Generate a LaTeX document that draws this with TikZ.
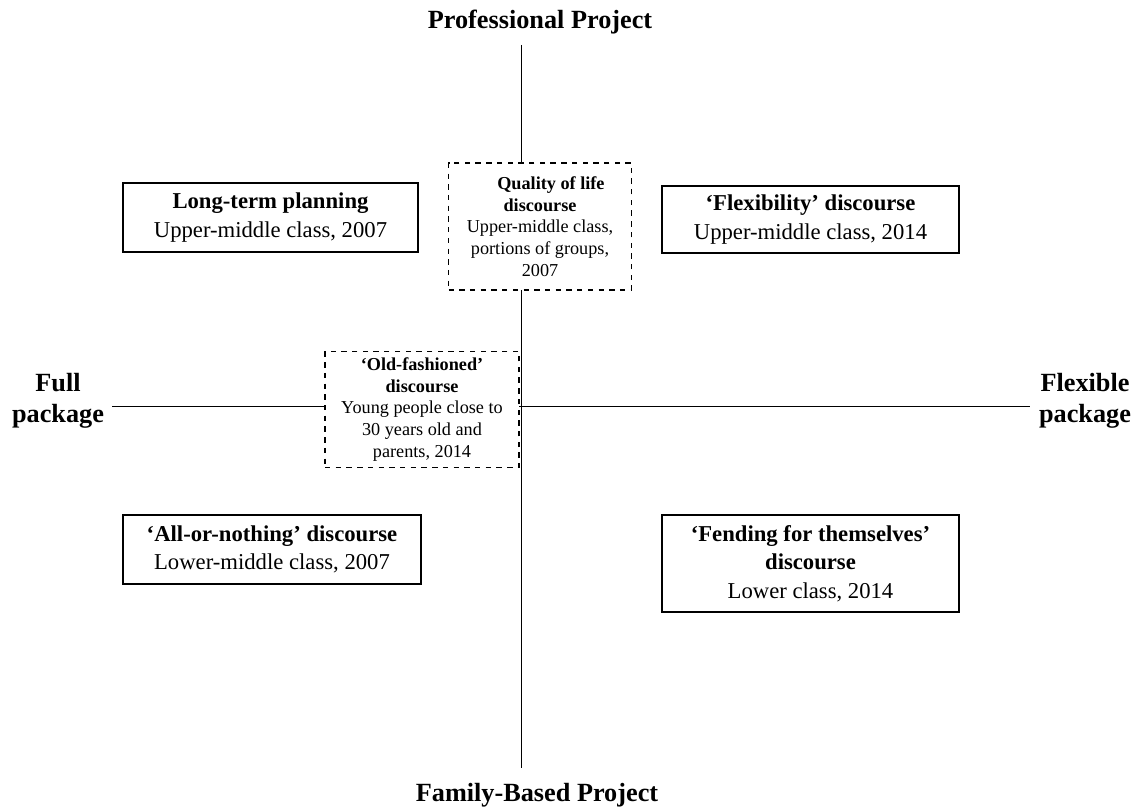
\documentclass[tikz,border=0pt]{standalone}
\usepackage{fontspec}
\setmainfont{Liberation Serif}
\usetikzlibrary{positioning}

\begin{document}
\begin{tikzpicture}[x=0.56pt,y=-0.56pt,
    every node/.style={align=center},
    axislabel/.style={font=\bfseries\fontsize{14.7}{17.2}\selectfont},
    quadbox/.style={draw,fill=white,line width=0.6pt,
        font=\fontsize{12.7}{16}\selectfont},
    middlebox/.style={draw,fill=white,dashed,line width=0.6pt,
        font=\fontsize{10.2}{12.2}\selectfont}]
    \useasboundingbox (0,0) rectangle (1133,810);

    % axes
    \coordinate (vtop) at (521,45);
    \coordinate (vbot) at (521,768);
    \coordinate (hleft) at (112,406);
    \coordinate (hright) at (1030,406);
    \draw[line width=0.5pt] (vtop) -- (vbot);
    \draw[line width=0.5pt] (hleft) -- (hright);

    \node[axislabel] (prof) at (540,22) {Professional Project};
    \node[axislabel] (family) at (537,795) {Family-Based Project};
    \node[axislabel] (full) at (58,401) {Full\\package};
    \node[axislabel] (flexible) at (1085,401) {Flexible\\package};

    % quadrants
    \node[quadbox,minimum width=295*0.56pt,minimum height=69*0.56pt]
        (longterm) at (270.5,217.5)
        {\textbf{Long-term planning}\\Upper-middle class, 2007};
    \node[quadbox,minimum width=297*0.56pt,minimum height=67*0.56pt]
        (flexibility) at (810.5,219.5)
        {\textbf{`Flexibility' discourse}\\Upper-middle class, 2014};
    \node[quadbox,minimum width=298*0.56pt,minimum height=69*0.56pt]
        (allornothing) at (272,549.5)
        {\textbf{`All-or-nothing' discourse}\\Lower-middle class, 2007};
    \node[quadbox,minimum width=297*0.56pt,minimum height=97*0.56pt]
        (fending) at (810.5,563.5)
        {\textbf{`Fending for themselves'}\\\textbf{discourse}\\Lower class, 2014};

    % in-between discourses
    \node[middlebox,minimum width=183*0.56pt,minimum height=127*0.56pt]
        (quality) at (540,226.5)
        {\hspace*{1.2em}\textbf{Quality of life}\\\textbf{discourse}\\Upper-middle class,\\portions of groups,\\2007};
    \node[middlebox,minimum width=194*0.56pt,minimum height=115*0.56pt]
        (oldfashioned) at (422,409.5)
        {\textbf{`Old-fashioned'}\\\textbf{discourse}\\Young people close to\\30 years old and\\parents, 2014};

\end{tikzpicture}
\end{document}
